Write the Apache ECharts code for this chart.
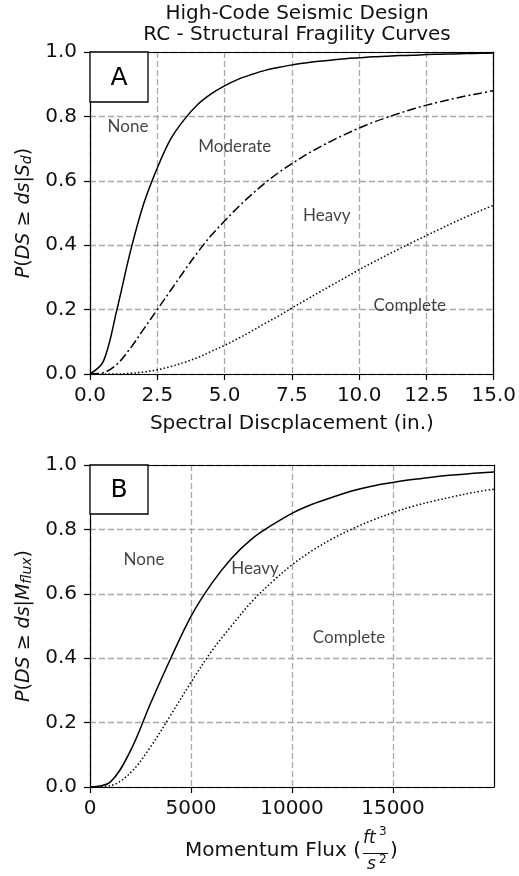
<!DOCTYPE html>
<html>
<head>
<meta charset="utf-8">
<script src="https://cdn.jsdelivr.net/npm/echarts@6/dist/echarts.min.js"></script>
<style>
  html, body { margin: 0; padding: 0; background: #fff; }
  #main { width: 519px; height: 876px; }
</style>
</head>
<body>
<div id="main"></div>
<script>
// panel A: spectral displacement (in.)
var sdX = [0, 0.5, 1, 1.5, 2, 2.5, 3, 3.5, 4, 4.5, 5, 5.5, 6, 6.5, 7, 7.5, 8, 8.5, 9, 9.5, 10, 10.5, 11, 11.5, 12, 12.5, 13, 13.5, 14, 14.5, 15];
var sdModerate = [0, 0.04, 0.20, 0.38, 0.53, 0.64, 0.73, 0.79, 0.837, 0.87, 0.895, 0.915, 0.93, 0.943, 0.952, 0.96, 0.966, 0.971, 0.975, 0.979, 0.982, 0.985, 0.987, 0.989, 0.99, 0.992, 0.993, 0.994, 0.995, 0.996, 0.997];
var sdHeavy = [0, 0.004, 0.03, 0.08, 0.14, 0.20, 0.26, 0.32, 0.378, 0.43, 0.475, 0.518, 0.557, 0.593, 0.625, 0.653, 0.68, 0.703, 0.725, 0.745, 0.764, 0.781, 0.796, 0.81, 0.823, 0.835, 0.845, 0.855, 0.864, 0.872, 0.88];
var sdComplete = [0, 0, 0, 0.002, 0.006, 0.013, 0.023, 0.036, 0.051, 0.07, 0.089, 0.11, 0.133, 0.157, 0.18, 0.205, 0.229, 0.253, 0.277, 0.30, 0.324, 0.346, 0.368, 0.389, 0.41, 0.43, 0.45, 0.47, 0.489, 0.507, 0.524];

// panel B: momentum flux (ft3/s2)
var mfX = [0, 1000, 2000, 3000, 4000, 5000, 6000, 7000, 8000, 9000, 10000, 11000, 12000, 13000, 14000, 15000, 16000, 17000, 18000, 19000, 20000];
var mfHeavy = [0, 0.015, 0.112, 0.26, 0.40, 0.53, 0.63, 0.71, 0.77, 0.813, 0.85, 0.878, 0.90, 0.92, 0.935, 0.946, 0.955, 0.963, 0.969, 0.974, 0.978];
var mfComplete = [0, 0.004, 0.044, 0.125, 0.224, 0.325, 0.42, 0.50, 0.575, 0.636, 0.69, 0.734, 0.771, 0.802, 0.829, 0.852, 0.872, 0.888, 0.902, 0.915, 0.925];

// region labels
var sdLabels = ['None', 'Moderate', 'Heavy', 'Complete'];
var sdLabelPos = [[1.41, 0.77], [5.38, 0.708], [8.8, 0.491], [11.88, 0.214]];
var mfLabels = ['None', 'Heavy', 'Complete'];
var mfLabelPos = [[2673, 0.705], [8168, 0.677], [12822, 0.463]];

var mfTicks = [0, 5000, 10000, 15000];

function pairs(xs, ys) {
  return xs.map(function (x, i) { return [x, ys[i]]; });
}
function labelData(names, pos) {
  return names.map(function (n, i) { return { name: n, value: pos[i] }; });
}

var FONT = 'DejaVu Sans';
var gridLine = { show: true, lineStyle: { type: [6, 3], color: '#a8a8a8', width: 1.3 } };
var axisLine = { show: true, onZero: false, lineStyle: { color: '#000', width: 1.2 } };
var axisTick = { show: true, inside: false, length: 6, lineStyle: { color: '#000', width: 1.2 } };

function yAxis(idx, name) {
  return {
    gridIndex: idx, type: 'value', min: 0, max: 1, interval: 0.2,
    axisLine: axisLine, axisTick: axisTick, splitLine: gridLine,
    axisLabel: { formatter: function (v) { return v.toFixed(1); }, fontSize: 20, color: '#111', fontFamily: FONT, margin: 13 },
    name: name, nameLocation: 'middle', nameGap: 55,
    nameTextStyle: {
      fontSize: 19, color: '#111', fontFamily: FONT,
      rich: {
        i: { fontStyle: 'italic', fontSize: 19, fontFamily: FONT, color: '#111' },
        s: { fontStyle: 'italic', fontSize: 14, fontFamily: FONT, color: '#111', verticalAlign: 'bottom', padding: [6, 0, 0, 0] }
      }
    }
  };
}
// top / right edges of the frame, drawn above the dashed grid
function frameX(idx, max) {
  return { gridIndex: idx, type: 'value', position: 'top', min: 0, max: max, z: 10,
    axisLine: axisLine, axisTick: { show: false }, axisLabel: { show: false }, splitLine: { show: false } };
}
function frameY(idx) {
  return { gridIndex: idx, type: 'value', position: 'right', min: 0, max: 1, z: 10,
    axisLine: axisLine, axisTick: { show: false }, axisLabel: { show: false }, splitLine: { show: false } };
}

function curve(name, g, data, type) {
  return {
    name: name, type: 'line', xAxisIndex: g, yAxisIndex: g, data: data,
    showSymbol: false, smooth: 0.35, clip: true,
    lineStyle: { color: '#000', width: 1.5, type: type, cap: 'butt' }
  };
}
function labels(g, data) {
  return {
    type: 'scatter', xAxisIndex: g, yAxisIndex: g, data: data, symbolSize: 0, silent: true,
    label: { show: true, position: 'inside', formatter: '{b}', fontFamily: 'Lato', fontSize: 17, color: '#111' }
  };
}

var chart = echarts.init(document.getElementById('main'));
chart.setOption({
  animation: false,
  title: {
    text: 'High-Code Seismic Design\nRC - Structural Fragility Curves',
    left: 292, textAlign: 'center', top: -2,
    textStyle: { fontSize: 20, fontWeight: 'normal', color: '#111', fontFamily: FONT, lineHeight: 21 }
  },
  grid: [
    { left: 90, top: 52, width: 404, height: 322 },
    { left: 90, top: 465, width: 404, height: 322 }
  ],
  xAxis: [
    {
      gridIndex: 0, type: 'value', min: 0, max: 15, interval: 2.5,
      axisLine: axisLine, axisTick: axisTick, splitLine: gridLine,
      axisLabel: { formatter: function (v) { return v.toFixed(1); }, fontSize: 20, color: '#111', fontFamily: FONT, margin: 12 },
      name: 'Spectral Discplacement (in.)', nameLocation: 'middle', nameGap: 40,
      nameTextStyle: { fontSize: 20, color: '#111', fontFamily: FONT }
    },
    {
      gridIndex: 1, type: 'value', min: 0, max: 20000,
      axisLine: axisLine,
      axisTick: { show: true, inside: false, length: 6, lineStyle: { color: '#000', width: 1.2 }, customValues: mfTicks },
      splitLine: gridLine,
      axisLabel: { customValues: mfTicks, formatter: function (v) { return String(v); }, fontSize: 20, color: '#111', fontFamily: FONT, margin: 12 }
    },
    frameX(0, 15),
    frameX(1, 20000)
  ],
  yAxis: [
    yAxis(0, '{i|P}({i|DS} ≥ {i|ds}|{i|S}{s|d})'),
    yAxis(1, '{i|P}({i|DS} ≥ {i|ds}|{i|M}{s|flux})'),
    frameY(0),
    frameY(1)
  ],
  series: [
    curve('Moderate', 0, pairs(sdX, sdModerate), 'solid'),
    curve('Heavy', 0, pairs(sdX, sdHeavy), [9, 3, 2, 3]),
    curve('Complete', 0, pairs(sdX, sdComplete), [1.5, 2.2]),
    curve('Heavy', 1, pairs(mfX, mfHeavy), 'solid'),
    curve('Complete', 1, pairs(mfX, mfComplete), [1.5, 2.2]),
    labels(0, labelData(sdLabels, sdLabelPos)),
    labels(1, labelData(mfLabels, mfLabelPos))
  ],
  graphic: [
    { type: 'rect', shape: { x: 90, y: 52, width: 58, height: 50 }, style: { fill: '#fff', stroke: '#000', lineWidth: 1.3 }, z: 100 },
    { type: 'text', x: 119, y: 78, style: { text: 'A', fontSize: 25, fontFamily: FONT, fill: '#000', align: 'center', verticalAlign: 'middle' }, z: 101 },
    { type: 'rect', shape: { x: 90, y: 465, width: 58, height: 49 }, style: { fill: '#fff', stroke: '#000', lineWidth: 1.3 }, z: 100 },
    { type: 'text', x: 119, y: 490, style: { text: 'B', fontSize: 25, fontFamily: FONT, fill: '#000', align: 'center', verticalAlign: 'middle' }, z: 101 },
    // x title of panel B with the fraction ft^3 / s^2
    { type: 'text', x: 185, y: 851, style: { text: 'Momentum Flux (', fontSize: 20, fontFamily: FONT, fill: '#111', verticalAlign: 'middle' } },
    { type: 'text', x: 363, y: 839, style: { text: 'ft', fontSize: 17, fontStyle: 'italic', fontFamily: FONT, fill: '#111', verticalAlign: 'middle' } },
    { type: 'text', x: 379, y: 832, style: { text: '3', fontSize: 12, fontFamily: FONT, fill: '#111', verticalAlign: 'middle' } },
    { type: 'line', shape: { x1: 363, y1: 853.5, x2: 388, y2: 853.5 }, style: { stroke: '#111', lineWidth: 1 } },
    { type: 'text', x: 367, y: 865, style: { text: 's', fontSize: 17, fontStyle: 'italic', fontFamily: FONT, fill: '#111', verticalAlign: 'middle' } },
    { type: 'text', x: 379, y: 860, style: { text: '2', fontSize: 12, fontFamily: FONT, fill: '#111', verticalAlign: 'middle' } },
    { type: 'text', x: 390, y: 851, style: { text: ')', fontSize: 20, fontFamily: FONT, fill: '#111', verticalAlign: 'middle' } }
  ]
});
</script>
</body>
</html>
